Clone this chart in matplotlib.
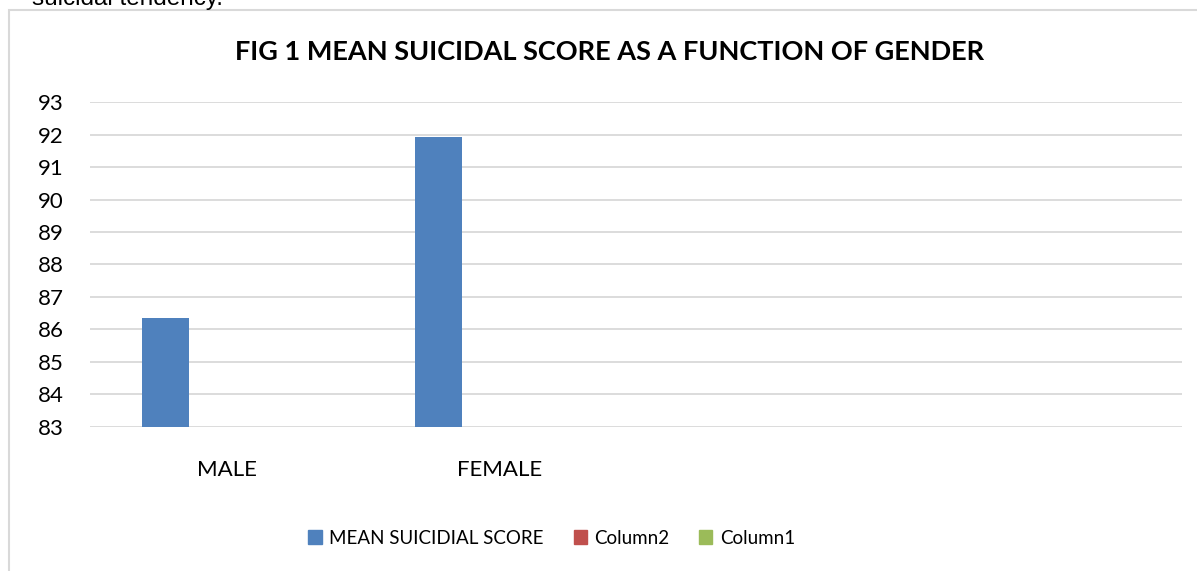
import matplotlib
matplotlib.use('Agg')
import matplotlib.pyplot as plt
from matplotlib.patches import Rectangle
import numpy as np

# data
categories = ['MALE', 'FEMALE', '', '']
mean_score = [86.35, 91.93, np.nan, np.nan]
column2 = [np.nan, np.nan, np.nan, np.nan]
column1 = [np.nan, np.nan, np.nan, np.nan]
series_names = ['MEAN SUICIDIAL SCORE', 'Column2', 'Column1']
series_colors = ['#4f81bd', '#c0504d', '#9bbb59']
y_ticks = list(range(83, 94))

plt.rcParams['font.family'] = ['Lato', 'DejaVu Sans']

fig = plt.figure(figsize=(11.97, 5.71), dpi=100)
ax = fig.add_axes([0.0752, 0.2527, 0.9875 - 0.0752, 0.8209 - 0.2527])

x = np.arange(len(categories))
w = 0.173
off = 0.2227
for k, (vals, name, col) in enumerate(zip([mean_score, column2, column1], series_names, series_colors)):
    ax.bar(x + (k - 1) * off, vals, width=w, color=col, label=name, zorder=3)

ax.set_xlim(-0.5, len(categories) - 0.5)
ax.set_ylim(83, 93)
ax.set_yticks(y_ticks)
ax.set_xticks(x)
ax.set_xticklabels(categories)
ax.grid(axis='y', color='#d9d9d9', linewidth=1.3, zorder=0)
for s in ax.spines.values():
    s.set_visible(False)
ax.tick_params(axis='both', length=0, labelsize=16, colors='black')
ax.tick_params(axis='y', pad=19)
ax.tick_params(axis='x', pad=24)

fig.text(0.509, 1 - 52 / 571, 'FIG 1 MEAN SUICIDAL SCORE AS A FUNCTION OF GENDER',
         ha='center', va='center', fontsize=19.5, fontweight='bold')

handles = [Rectangle((0, 0), 1, 1, color=c) for c in series_colors]
fig.legend(handles, series_names, loc='center', bbox_to_anchor=(0.461, 1 - 538 / 571),
           ncol=3, frameon=False, fontsize=13.5, handlelength=0.7, handleheight=0.7,
           handletextpad=0.4, columnspacing=1.6)

# chart frame (Excel style) and cut-off text above
fig.patches.append(Rectangle((9 / 1197, -0.1), 1.1, 1 - 10 / 571 + 0.1, transform=fig.transFigure,
                             fill=False, edgecolor='#d9d9d9', linewidth=1.5, clip_on=False))
fig.text(32 / 1197, 1 - 5 / 571, 'suicidal tendency.', ha='left', va='baseline',
         fontsize=17.5, family='Liberation Sans')

fig.savefig('out.png', dpi=100)
